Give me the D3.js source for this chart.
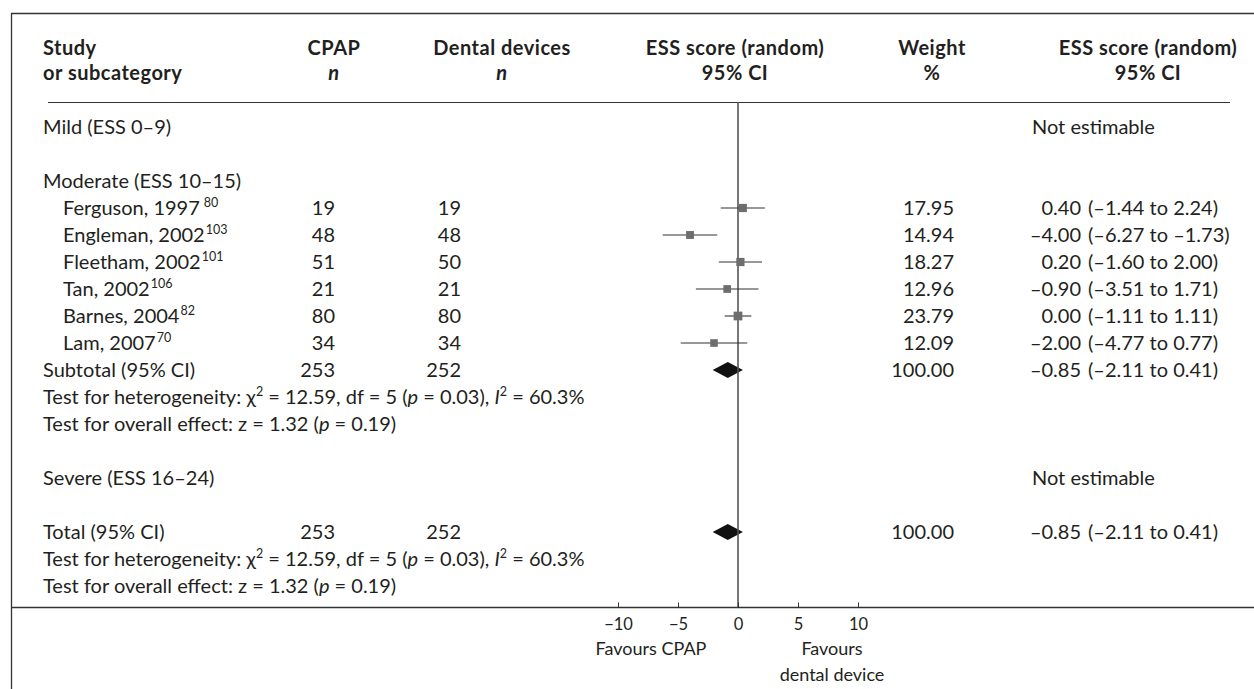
<!DOCTYPE html>
<html>
<head>
<meta charset="utf-8">
<script src="https://cdn.jsdelivr.net/npm/d3@7"></script>
<style>
  body { margin: 0; background: #fff; }
  svg text { font-family: Lato, "Noto Sans", sans-serif; fill: #231f20; }
</style>
</head>
<body>
<div id="forest"></div>
<script>
var svgWidth = 1254;
var svgHeight = 689;

// data
var studies = ["Ferguson, 1997", "Engleman, 2002", "Fleetham, 2002", "Tan, 2002", "Barnes, 2004", "Lam, 2007"];
var refs = ["80", "103", "101", "106", "82", "70"];
var nCpap = [19, 48, 51, 21, 80, 34];
var nDental = [19, 48, 50, 21, 80, 34];
var estimates = [0.40, -4.00, 0.20, -0.90, 0.00, -2.00];
var lowers = [-1.44, -6.27, -1.60, -3.51, -1.11, -4.77];
var uppers = [2.24, -1.73, 2.00, 1.71, 1.11, 0.77];
var weights = [17.95, 14.94, 18.27, 12.96, 23.79, 12.09];
var pooled = [-0.85, -2.11, 0.41];
var totalN = [253, 252];
var tickValues = [-10, -5, 0, 5, 10];

var fs = 20;

var svg = d3.select("#forest")
  .append("svg")
  .attr("width", svgWidth)
  .attr("height", svgHeight);

// row index -> text baseline
var yRow = d3.scaleLinear().domain([0, 1]).range([134, 161]);
var xScale = d3.scaleLinear().domain([-10, 10]).range([618, 858]);
var boxSize = d3.scaleLinear().domain([12, 24]).range([7.6, 8.8]);

var num = function(v) {
  var s = d3.format(".2f")(Math.abs(v));
  return v < 0 ? "\u2013" + s : s;
};

// frame lines
svg.append("line").attr("x1", 11).attr("x2", svgWidth).attr("y1", 13.5).attr("y2", 13.5)
  .attr("stroke", "#333").attr("stroke-width", 1.3);
svg.append("line").attr("x1", 11.5).attr("x2", 11.5).attr("y1", 13).attr("y2", svgHeight)
  .attr("stroke", "#333").attr("stroke-width", 1.3);
svg.append("line").attr("x1", 48).attr("x2", 1230).attr("y1", 102.5).attr("y2", 102.5)
  .attr("stroke", "#333").attr("stroke-width", 1.2);

// header
var header = svg.append("g").attr("font-weight", "bold").attr("font-size", 20)
  .attr("letter-spacing", 0.5);
header.append("text").attr("x", 43).attr("y", 55).text("Study");
header.append("text").attr("x", 43).attr("y", 80).text("or subcategory");
var headCols = [
  [334, "CPAP", "n"],
  [502, "Dental devices", "n"],
  [735, "ESS score (random)", "95% CI"],
  [932, "Weight", "%"],
  [1148, "ESS score (random)", "95% CI"]
];
headCols.forEach(function(c) {
  header.append("text").attr("x", c[0]).attr("y", 55).attr("text-anchor", "middle").text(c[1]);
  header.append("text").attr("x", c[0]).attr("y", 80).attr("text-anchor", "middle")
    .attr("font-style", c[2] == "n" ? "italic" : null).text(c[2]);
});

var body = svg.append("g").attr("font-size", fs);

function label(row, x, txt) {
  return body.append("text").attr("x", x).attr("y", yRow(row)).text(txt);
}

label(0, 43, "Mild (ESS 0\u20139)");
label(0, 1032, "Not estimable");
label(2, 43, "Moderate (ESS 10\u201315)");
label(13, 43, "Severe (ESS 16\u201324)");
label(13, 1032, "Not estimable");

// study rows
studies.forEach(function(name, i) {
  var row = 3 + i;
  var t = label(row, 63, name);
  t.append("tspan").attr("font-size", 12.5).attr("dx", i == 0 ? 4 : 1).attr("dy", -8).text(refs[i]);
  body.append("text").attr("x", 335).attr("y", yRow(row)).attr("text-anchor", "end").text(nCpap[i]);
  body.append("text").attr("x", 461).attr("y", yRow(row)).attr("text-anchor", "end").text(nDental[i]);
  body.append("text").attr("x", 954).attr("y", yRow(row)).attr("text-anchor", "end").text(d3.format(".2f")(weights[i]));
  body.append("text").attr("x", 1081).attr("y", yRow(row)).attr("text-anchor", "end").text(num(estimates[i]));
  body.append("text").attr("x", 1088).attr("y", yRow(row))
    .text("(" + num(lowers[i]) + " to " + num(uppers[i]) + ")");
});

// subtotal / total blocks
function summaryBlock(row, title) {
  label(row, 43, title);
  body.append("text").attr("x", 335).attr("y", yRow(row)).attr("text-anchor", "end").text(totalN[0]);
  body.append("text").attr("x", 461).attr("y", yRow(row)).attr("text-anchor", "end").text(totalN[1]);
  body.append("text").attr("x", 954).attr("y", yRow(row)).attr("text-anchor", "end").text("100.00");
  body.append("text").attr("x", 1081).attr("y", yRow(row)).attr("text-anchor", "end").text(num(pooled[0]));
  body.append("text").attr("x", 1088).attr("y", yRow(row))
    .text("(" + num(pooled[1]) + " to " + num(pooled[2]) + ")");

  var het = label(row + 1, 43, "Test for heterogeneity: \u03c7");
  het.append("tspan").attr("font-size", 12.5).attr("dy", -8).text("2");
  het.append("tspan").attr("dy", 8).text(" = 12.59, df = 5 (");
  het.append("tspan").attr("font-style", "italic").text("p");
  het.append("tspan").text(" = 0.03), ");
  het.append("tspan").attr("font-style", "italic").text("I");
  het.append("tspan").attr("font-size", 12.5).attr("dy", -8).text("2");
  het.append("tspan").attr("dy", 8).text(" = 60.3%");

  var ov = label(row + 2, 43, "Test for overall effect: z = 1.32 (");
  ov.append("tspan").attr("font-style", "italic").text("p");
  ov.append("tspan").text(" = 0.19)");

  var cy = yRow(row) - 7;
  var diamond = [[xScale(pooled[1]), cy], [xScale(pooled[0]), cy - 8], [xScale(pooled[2]), cy], [xScale(pooled[0]), cy + 8]];
  svg.append("path").attr("d", d3.line()(diamond) + "Z").attr("fill", "#111");
}
summaryBlock(9, "Subtotal (95% CI)");
summaryBlock(15, "Total (95% CI)");

// zero line
svg.append("line").attr("x1", xScale(0)).attr("x2", xScale(0)).attr("y1", 102).attr("y2", 607)
  .attr("stroke", "#555").attr("stroke-width", 1.6);

// CI lines and boxes
var marks = svg.append("g");
estimates.forEach(function(e, i) {
  var cy = yRow(3 + i) - 7;
  marks.append("line").attr("x1", xScale(lowers[i])).attr("x2", xScale(uppers[i]))
    .attr("y1", cy).attr("y2", cy).attr("stroke", "#333").attr("stroke-width", 1.1);
  var s = boxSize(weights[i]);
  marks.append("rect").attr("x", xScale(e) - s / 2).attr("y", cy - s / 2)
    .attr("width", s).attr("height", s).attr("fill", "#6d6d6d");
});

// bottom axis
svg.append("line").attr("x1", 11).attr("x2", svgWidth).attr("y1", 607.5).attr("y2", 607.5)
  .attr("stroke", "#333").attr("stroke-width", 1.3);

var xAxis = d3.axisBottom(xScale).tickValues(tickValues).tickSizeInner(-5).tickSizeOuter(0).tickPadding(11);
var axisG = svg.append("g").attr("transform", "translate(0,607.5)").call(xAxis);
axisG.select(".domain").remove();
axisG.selectAll(".tick line").attr("stroke", "#333");
axisG.selectAll(".tick text").attr("font-size", 16.5).attr("font-family", null).attr("fill", "#231f20");

var foot = svg.append("g").attr("font-size", 18).attr("text-anchor", "middle");
foot.append("text").attr("x", 651).attr("y", 655).text("Favours CPAP");
foot.append("text").attr("x", 832).attr("y", 655).text("Favours");
foot.append("text").attr("x", 832).attr("y", 681).text("dental device");
</script>
</body>
</html>
